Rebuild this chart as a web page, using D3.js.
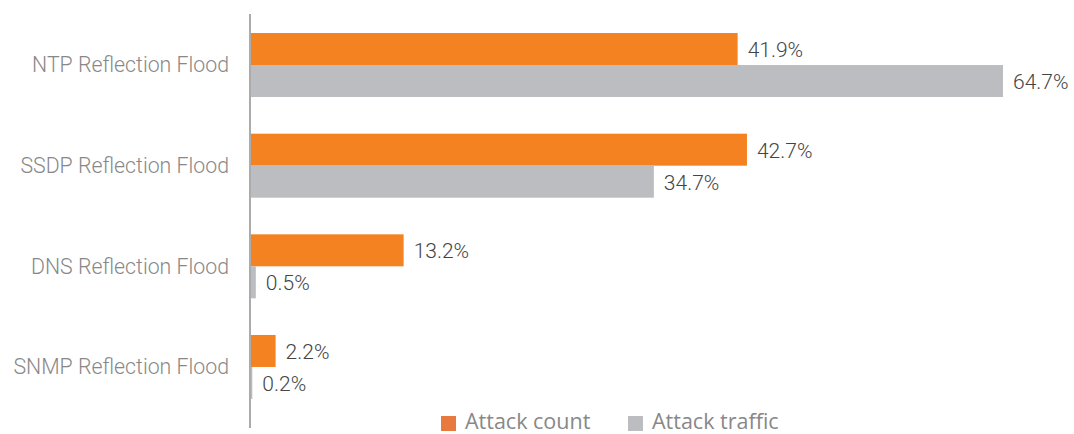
<!DOCTYPE html>
<html><head><meta charset="utf-8">
<script src="https://cdn.jsdelivr.net/npm/d3@7"></script>
<style>body{margin:0;background:#fff}svg{display:block}</style>
</head><body>
<svg id="c" width="1074" height="434"></svg>
<script>
const categories = ["NTP Reflection Flood","SSDP Reflection Flood","DNS Reflection Flood","SNMP Reflection Flood"];
const seriesNames = ["Attack count","Attack traffic"];
const attackCount = [41.9, 42.7, 13.2, 2.2];
const attackTraffic = [64.7, 34.7, 0.5, 0.2];
const colors = ["#F58220","#BCBDC0"];
const legendColors = ["#E87A40","#BCBDC0"];

const svg = d3.select("#c");
const x0 = 250;
const x = d3.scaleLinear().domain([0, 64.7]).range([x0, 1003]);
const y = d3.scalePoint().domain(categories).range([14.7, 417.3]).padding(0.5);
const sub = d3.scaleBand().domain(seriesNames).range([-32, 32]);

const data = categories.map((c,i)=>({cat:c, vals:[attackCount[i], attackTraffic[i]]}));

const g = svg.append("g");
data.forEach(d=>{
  d.vals.forEach((v,j)=>{
    g.append("rect")
      .attr("x", x(0)).attr("y", y(d.cat)+sub(seriesNames[j]))
      .attr("width", x(v)-x(0)).attr("height", sub.bandwidth())
      .attr("fill", colors[j]);
    g.append("text")
      .attr("x", x(v)+10).attr("y", y(d.cat)+sub(seriesNames[j])+sub.bandwidth()/2)
      .attr("dy","0.38em")
      .attr("font-family","Roboto").attr("font-weight",300).attr("font-size",21)
      .attr("fill","#444").text(v.toFixed(1)+"%");
  });
});

// axis
const axis = d3.axisLeft(y).tickSize(0).tickPadding(21);
const ag = svg.append("g").attr("transform",`translate(${x0},0)`).call(axis);
ag.select(".domain").remove();
ag.selectAll("text").attr("font-family","Roboto").attr("font-weight",300).attr("font-size",21.3).attr("fill","#888");
svg.append("line").attr("x1",x0).attr("x2",x0).attr("y1",14).attr("y2",428)
  .attr("stroke","#ABABAB").attr("stroke-width",2);

// legend
const legX = [441, 628];
seriesNames.forEach((s,i)=>{
  svg.append("rect").attr("x",legX[i]).attr("y",416).attr("width",15).attr("height",15).attr("fill",legendColors[i]);
  svg.append("text").attr("x",legX[i]+24).attr("y",429)
    .attr("font-family","Open Sans").attr("font-size",21.5).attr("fill","#888").text(s);
});
</script>
</body></html>
